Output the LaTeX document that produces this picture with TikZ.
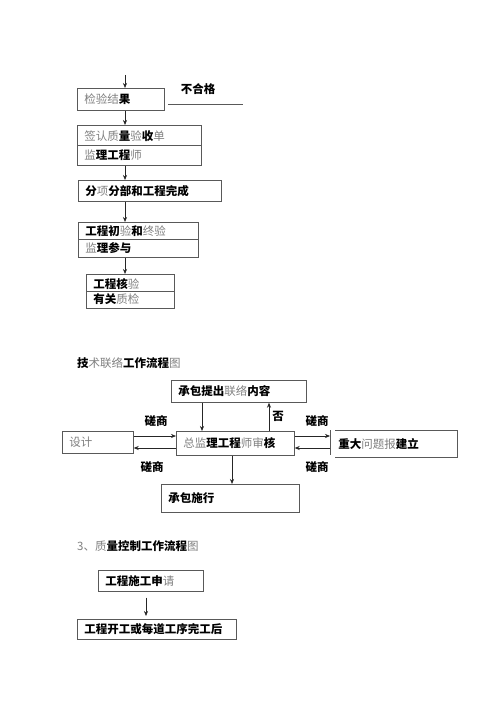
\documentclass[tikz,border=0pt]{standalone}
\usepackage{fontspec}
\setmainfont{Noto Sans CJK SC}
\usetikzlibrary{arrows.meta}
\newcommand\gy[1]{\textcolor{black!50}{\mdseries #1}}
\begin{document}
\begin{tikzpicture}[x=1pt,y=-1pt,
  bd/.style={draw=black!65, line width=0.7pt},
  box/.style={bd, inner xsep=7pt, inner ysep=0pt, align=left, anchor=north west,
    font=\fontsize{11.5}{19}\selectfont\bfseries},
  arr/.style={-{Stealth[length=5pt,width=4pt]}, line width=0.6pt, draw=black!85},
  lbl/.style={font=\fontsize{11.5}{13}\selectfont\bfseries, inner sep=0pt}]
\useasboundingbox[fill=white] (0,0) rectangle (500,708);

% ---------- section 1 ----------
\node[box, minimum width=87pt, minimum height=22pt, text width=73pt] (jg) at (77,88) {\gy{检验结}果};
\node[box, minimum width=124pt, minimum height=40pt, text width=110pt] (qr) at (77,125)
  {\gy{签认质}量\gy{验}收\gy{单}\\\gy{监}理工程\gy{师}};
\draw[bd] (qr.west) -- (qr.east);
\node[box, minimum width=143pt, minimum height=21pt, text width=129pt] (fx) at (78,180) {分\gy{项}分部和工程完成};
\node[box, minimum width=120pt, minimum height=35pt, text width=106pt, font=\fontsize{11.5}{17}\selectfont\bfseries] (cy) at (78,222)
  {工程初\gy{验}和\gy{终验}\\\gy{监}理参与};
\draw[bd] (cy.west) -- (cy.east);
\node[box, minimum width=88pt, minimum height=34pt, text width=74pt, inner xsep=6pt, font=\fontsize{11.5}{15.5}\selectfont\bfseries] (hy) at (86,274)
  {工程核\gy{验}\\有关\gy{质检}};
\draw[bd] (hy.west) -- (hy.east);

\coordinate (ax) at (125,0);
\coordinate (top) at (125,75);
\draw[arr] (top) -- (jg.north -| ax);
\draw[arr] (jg.south -| ax) -- (qr.north -| ax);
\draw[arr] (qr.south -| ax) -- (fx.north -| ax);
\draw[arr] (fx.south -| ax) -- (cy.north -| ax);
\draw[arr] (cy.south -| ax) -- (hy.north -| ax);

\node[lbl] (bhg) at (198,89) {不合格};
\coordinate (l1) at (168,104);
\coordinate (l2) at (243,104);
\draw[bd] (l1) -- (l2);

% ---------- section 2 ----------
\node[lbl, anchor=west] (t1) at (77,363) {技\gy{术联络}工作流程\gy{图}};

\node[box, minimum width=135pt, minimum height=22pt, text width=121pt] (cb) at (171,380) {承包提出\gy{联络}内容};
\node[box, minimum width=71pt, minimum height=22pt, text width=57pt] (sj) at (62,431) {\gy{设计}};
\node[box, minimum width=118pt, minimum height=24pt, text width=104pt] (sh) at (176,431) {\gy{总监}理工程\gy{师审}核};
\node[box, draw=none, minimum width=127pt, minimum height=27pt, text width=111pt, inner xsep=8pt] (zd) at (330,430) {重大\gy{问题报}建立};
\draw[bd] ([xshift=5pt]zd.north west) -- (zd.north east) -- (zd.south east) -- ([xshift=5pt]zd.south west);
\draw[bd] (zd.north west) -- ([yshift=3pt]zd.south west);
\node[box, minimum width=138pt, minimum height=28pt, text width=124pt] (ss) at (161,484) {承包施行};

\coordinate (x202) at (202,0);
\coordinate (x269) at (269,0);
\coordinate (x232) at (232,0);
\coordinate (y436) at (0,436);
\coordinate (y448) at (0,448);
\draw[arr] (cb.south -| x202) -- (sh.north -| x202);
\draw[arr] (sh.north -| x269) -- (cb.south -| x269);
\node[lbl] (fou) at (278,416) {否};
\draw[arr] (sj.east |- y436) -- (sh.west |- y436);
\draw[arr] (sh.west |- y448) -- (sj.east |- y448);
\draw[arr] (sh.east |- y436) -- (zd.west |- y436);
\draw[arr] (zd.west |- y448) -- (sh.east |- y448);
\draw[arr] (sh.south -| x232) -- (ss.north -| x232);
\node[lbl] (c1) at (156,421) {磋商};
\node[lbl] (c2) at (152,467) {磋商};
\node[lbl] (c3) at (317,421) {磋商};
\node[lbl] (c4) at (317,467) {磋商};

% ---------- section 3 ----------
\node[lbl, anchor=west] (t3) at (77,546) {\gy{3、质}量控制工作流程\gy{图}};
\node[box, minimum width=105pt, minimum height=21pt, text width=91pt] (sq) at (98,570) {工程施工申\gy{请}};
\node[box, minimum width=159pt, minimum height=20pt, text width=145pt] (kg) at (77,619) {工程开工或每道工序完工后};
\coordinate (x146) at (146,0);
\draw[arr, shorten <=6pt, shorten >=3pt] (sq.south -| x146) -- (kg.north -| x146);
\end{tikzpicture}
\end{document}
